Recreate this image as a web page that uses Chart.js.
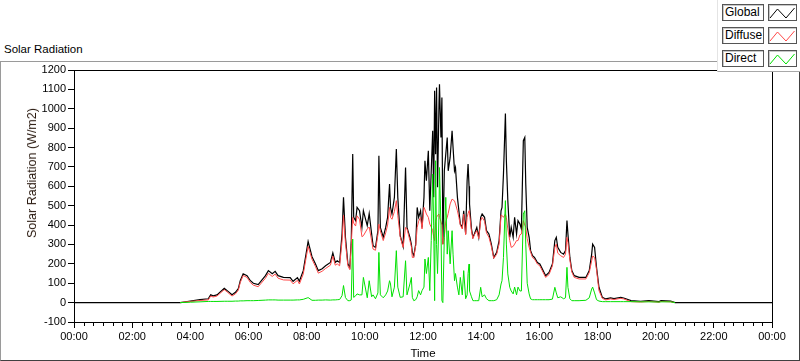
<!DOCTYPE html>
<html>
<head>
<meta charset="utf-8">
<script src="https://cdn.jsdelivr.net/npm/chart.js@4.4.1/dist/chart.umd.min.js"></script>
<style>
  html, body { margin: 0; padding: 0; background: #fff; }
  body { width: 800px; height: 361px; position: relative; overflow: hidden; font-family: "Liberation Sans", Arial, sans-serif; color: #000; }
  #wrap { position: absolute; left: 0; top: 0; width: 800px; height: 361px; }
  #frame { position: absolute; left: 0; top: 61px; width: 798px; height: 298px; border-top: 1px solid #9a9a9a; border-left: 1px solid #9a9a9a; border-right: 1px solid #404040; border-bottom: 1px solid #404040; }
  #title { position: absolute; left: 4px; top: 43px; font-size: 11.5px; }
  #ytitle { position: absolute; left: 32px; top: 173px; font-size: 12.5px; font-weight: normal; color: #2a1a10; white-space: nowrap; transform: translate(-50%, -50%) rotate(-90deg); }
  #legend { position: absolute; left: 717px; top: 0; width: 83px; height: 71px; background: #fff; border-left: 1px solid #e4e4e4; border-bottom: 1px solid #a8a8a8; }
  .lab { position: absolute; left: 4px; height: 15px; border: 1px solid #555; box-shadow: inset 1px 1px #c8c8c8; font-size: 12px; line-height: 15px; padding-left: 2px; width: 38px; }
  .smp { position: absolute; left: 50px; width: 27px; height: 15px; border: 1px solid #555; box-shadow: inset 1px 1px #c8c8c8; }
</style>
</head>
<body>
<div id="frame"></div>
<div id="title">Solar Radiation</div>
<div id="wrap"><canvas id="chart"></canvas></div>
<div id="ytitle">Solar Radiation (W/m2)</div>
<div id="legend">
  <div class="lab" style="top:4px">Global</div>
  <div class="smp" style="top:4px"><svg width="27" height="15"><polyline points="1,13 8.5,4 17,13 25.5,3" fill="none" stroke="#000" stroke-width="1"/></svg></div>
  <div class="lab" style="top:27px">Diffuse</div>
  <div class="smp" style="top:27px"><svg width="27" height="15"><polyline points="1,13 8.5,4 17,13 25.5,3" fill="none" stroke="#ff4848" stroke-width="1"/></svg></div>
  <div class="lab" style="top:50px">Direct</div>
  <div class="smp" style="top:50px"><svg width="27" height="15"><polyline points="1,13 8.5,4 17,13 25.5,3" fill="none" stroke="#00e000" stroke-width="1"/></svg></div>
</div>
<script>
// time of day in minutes
const minutes = [0, 219, 227, 240, 260, 277, 282, 287, 295, 310, 316, 326, 333, 339, 343, 349, 357, 364, 370, 380,
  395, 401, 409, 415, 421, 432, 446, 452, 461, 465, 473, 481, 483, 491, 498, 504, 512, 519, 529, 534,
  539, 543, 548, 553, 556, 560, 565, 569, 572, 575, 577, 581, 584, 589, 594, 597, 605, 609, 614, 617,
  622, 627, 629, 632, 638, 643, 647, 651, 653, 656, 661, 665, 668, 673, 679, 684, 687, 693, 696, 698,
  701, 705, 708, 711, 715, 718, 722, 724, 727, 731, 734, 737, 740, 742, 744, 746, 748, 750, 753, 754,
  757, 759, 761, 764, 767, 770, 772, 776, 780, 782, 785, 787, 791, 794, 797, 801, 804, 808, 811, 813,
  815, 816, 820, 823, 826, 831, 835, 839, 842, 847, 851, 856, 861, 866, 872, 877, 881, 883, 886, 890,
  892, 895, 899, 902, 906, 909, 913, 916, 920, 923, 927, 930, 932, 935, 939, 942, 946, 950, 956, 961,
  966, 973, 980, 987, 992, 995, 998, 1004, 1010, 1014, 1017, 1019, 1023, 1027, 1032, 1042, 1056, 1063, 1068, 1070,
  1074, 1078, 1083, 1090, 1097, 1107, 1114, 1128, 1134, 1149, 1169, 1186, 1207, 1211, 1231, 1240, 1440];

const globalRad = [0, 0, 3, 8, 15, 20, 40, 35, 40, 74, 62, 41, 53, 72, 113, 149, 139, 113, 100, 93,
  139, 165, 149, 161, 139, 130, 129, 110, 129, 110, 165, 285, 316, 237, 200, 165, 175, 190, 207, 256,
  207, 216, 207, 355, 543, 337, 200, 182, 320, 766, 440, 423, 491, 474, 388, 474, 397, 459, 355, 294,
  285, 371, 757, 388, 337, 388, 440, 612, 491, 457, 543, 792, 543, 345, 290, 697, 388, 337, 300, 259,
  242, 302, 491, 440, 474, 388, 543, 732, 629, 783, 474, 680, 887, 543, 1093, 766, 1110, 595, 1024, 1127,
  852, 1058, 302, 680, 766, 852, 680, 749, 887, 800, 680, 697, 543, 474, 405, 388, 474, 354, 629, 715,
  600, 509, 380, 337, 354, 388, 337, 440, 457, 440, 371, 354, 302, 233, 259, 320, 474, 491, 663, 975,
  732, 526, 337, 388, 337, 440, 354, 423, 405, 380, 835, 852, 612, 388, 337, 268, 242, 233, 207, 199,
  174, 139, 156, 199, 320, 337, 285, 259, 250, 268, 423, 354, 233, 165, 139, 130, 130, 165, 250, 302,
  285, 182, 79, 27, 19, 24, 21, 27, 24, 10, 7, 10, 5, 10, 8, 0, 0];

// diffuse and direct are only logged between sunrise and sunset (null = no sample)
const diffuseRad = [null, 0, 3, 6, 11, 14, 34, 29, 34, 67, 55, 34, 45, 64, 104, 140, 130, 103, 90, 82,
  126, 151, 135, 147, 126, 117, 116, 97, 115, 96, 148, 262, 290, 224, 187, 152, 162, 176, 193, 240,
  193, 200, 190, 318, 450, 310, 190, 170, 300, 440, 410, 395, 448, 430, 340, 345, 380, 390, 320, 276,
  270, 350, 405, 370, 320, 360, 400, 491, 440, 430, 470, 526, 450, 340, 285, 388, 380, 320, 290, 233,
  233, 295, 388, 420, 440, 380, 491, 480, 457, 440, 405, 390, 371, 340, 320, 420, 440, 450, 457, 440,
  420, 400, 300, 337, 420, 440, 460, 509, 534, 530, 525, 509, 474, 440, 400, 380, 457, 350, 440, 460,
  474, 460, 370, 330, 350, 371, 330, 423, 440, 420, 360, 337, 290, 228, 250, 302, 450, 450, 440, 457,
  440, 380, 320, 285, 290, 302, 320, 320, 350, 354, 423, 400, 388, 330, 285, 260, 232, 225, 199, 190,
  165, 130, 145, 190, 285, 302, 255, 242, 233, 250, 337, 310, 220, 158, 130, 122, 122, 155, 216, 240,
  233, 170, 62, 22, 14, 19, 16, 22, 19, 5, 3, 6, 2, 6, 4, 0, null];

const directRad = [null, 0, 1, 2, 4, 6, 6, 6, 6, 7, 7, 7, 8, 8, 9, 9, 10, 10, 10, 11,
  13, 14, 14, 14, 13, 13, 13, 13, 14, 14, 17, 24, 26, 12, 12, 13, 13, 14, 13, 14,
  14, 15, 16, 36, 88, 26, 10, 10, 14, 328, 27, 35, 45, 40, 40, 130, 25, 113, 30, 40,
  20, 50, 259, 40, 25, 40, 60, 113, 96, 30, 80, 268, 80, 27, 30, 216, 40, 96, 130, 27,
  10, 15, 30, 62, 40, 62, 80, 225, 150, 233, 62, 320, 663, 400, 10, 732, 300, 150, 457, 697,
  400, 10, 0, 337, 543, 250, 371, 200, 371, 250, 113, 150, 80, 40, 130, 40, 165, 20, 40, 150,
  199, 60, 30, 10, 10, 10, 10, 79, 30, 40, 20, 10, 10, 10, 15, 40, 96, 113, 233, 526,
  302, 148, 79, 60, 45, 80, 40, 80, 60, 60, 457, 474, 302, 100, 45, 19, 15, 15, 15, 15,
  15, 15, 15, 18, 79, 50, 25, 30, 20, 25, 182, 79, 20, 10, 10, 10, 12, 25, 70, 80,
  50, 15, 8, 5, 5, 5, 5, 5, 5, 5, 4, 4, 3, 4, 4, 0, null];

const hourTicks = [0, 120, 240, 360, 480, 600, 720, 840, 960, 1080, 1200, 1320, 1440];
const hourLabels = ['00:00', '02:00', '04:00', '06:00', '08:00', '10:00', '12:00', '14:00', '16:00', '18:00', '20:00', '22:00', '00:00'];
const radiationTicks = [-100, 0, 100, 200, 300, 400, 500, 600, 700, 800, 900, 1000, 1100, 1200];

const tickFont = { family: 'Liberation Sans', size: 11 };

function series(values) {
  return values.map((v, i) => ({ x: minutes[i], y: v }));
}

// minor ticks every 20 minutes, plus the frame round the plot area
const plotDecor = {
  id: 'plotDecor',
  afterDraw(chart) {
    const ctx = chart.ctx;
    const a = chart.chartArea;
    const xs = chart.scales.x;
    ctx.save();
    ctx.strokeStyle = '#000';
    ctx.lineWidth = 1;
    ctx.beginPath();
    for (let m = 20; m < 1440; m += 20) {
      if (m % 120 === 0) continue;
      const px = Math.round(xs.getPixelForValue(m)) + 0.5;
      ctx.moveTo(px, a.bottom);
      ctx.lineTo(px, a.bottom + 4);
    }
    ctx.stroke();
    ctx.strokeRect(Math.round(a.left) + 0.5, Math.round(a.top) + 0.5, Math.round(a.right - a.left), Math.round(a.bottom - a.top));
    ctx.restore();
  }
};

new Chart(document.getElementById('chart'), {
  type: 'line',
  data: {
    datasets: [
      { label: 'Global', data: series(globalRad), borderColor: '#000', borderWidth: 1.2, order: 2 },
      { label: 'Diffuse', data: series(diffuseRad), borderColor: '#ff4848', order: 1 },
      { label: 'Direct', data: series(directRad), borderColor: '#00e000', order: 0 }
    ]
  },
  options: {
    responsive: true,
    maintainAspectRatio: false,
    animation: false,
    layout: { padding: { left: 0, right: 28, top: 70, bottom: 0 } },
    elements: {
      point: { radius: 0 },
      line: { borderWidth: 1, tension: 0, fill: false }
    },
    plugins: { legend: { display: false }, tooltip: { enabled: false } },
    scales: {
      x: {
        type: 'linear', min: 0, max: 1440,
        afterBuildTicks: s => { s.ticks = hourTicks.map(v => ({ value: v })); },
        afterFit: s => { s.height = 39; },
        grid: { drawOnChartArea: false, tickLength: 6, color: '#000' },
        border: { color: '#000' },
        ticks: { font: tickFont, color: '#000', padding: 2, maxRotation: 0, autoSkip: false,
          callback: (v, i) => hourLabels[i] },
        title: { display: true, text: 'Time', font: { family: 'Liberation Sans', size: 11.5 }, color: '#000', padding: { top: 0, bottom: 0 } }
      },
      y: {
        type: 'linear', min: -100, max: 1200,
        afterBuildTicks: s => { s.ticks = radiationTicks.map(v => ({ value: v })); },
        afterFit: s => { s.width = 74; },
        grid: { drawOnChartArea: false, tickLength: 6, color: '#000' },
        border: { color: '#000' },
        ticks: { font: tickFont, color: '#000', padding: 2, callback: v => String(v) }
      }
    }
  },
  plugins: [plotDecor]
});
</script>
</body>
</html>
